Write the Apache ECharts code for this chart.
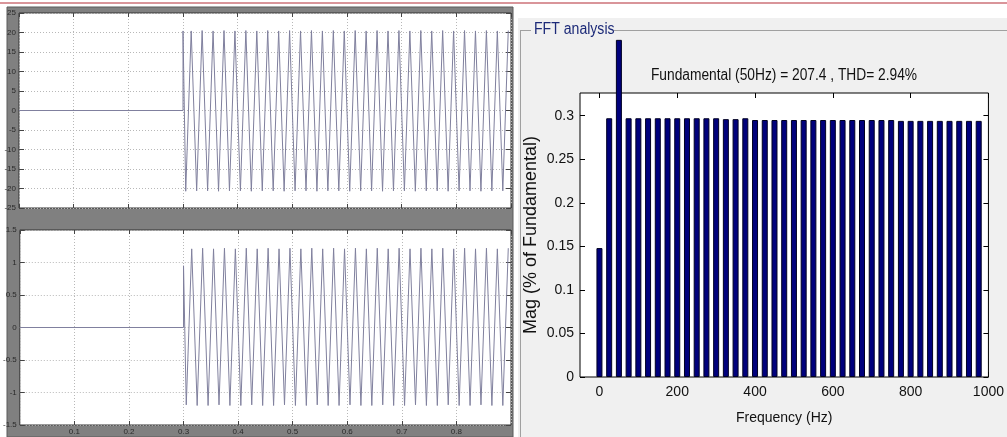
<!DOCTYPE html>
<html>
<head>
<meta charset="utf-8">
<script src="https://cdn.jsdelivr.net/npm/echarts@6/dist/echarts.min.js"></script>
<style>
  html, body { margin: 0; padding: 0; background: #fff; }
  #main { width: 1007px; height: 437px; }
</style>
</head>
<body>
<div id="main"></div>
<script>
// scope traces: extrema (time in s)
const waveT = [0, 0.3, 0.3,
  0.305, 0.315, 0.325, 0.335, 0.345, 0.355, 0.365, 0.375, 0.385, 0.395,
  0.405, 0.415, 0.425, 0.435, 0.445, 0.455, 0.465, 0.475, 0.485, 0.495,
  0.505, 0.515, 0.525, 0.535, 0.545, 0.555, 0.565, 0.575, 0.585, 0.595,
  0.605, 0.615, 0.625, 0.635, 0.645, 0.655, 0.665, 0.675, 0.685, 0.695,
  0.705, 0.715, 0.725, 0.735, 0.745, 0.755, 0.765, 0.775, 0.785, 0.795,
  0.805, 0.815, 0.825, 0.835, 0.845, 0.855, 0.865, 0.875, 0.885, 0.895]
const voltage = [0, 0, 20.4,
  -20.7, 20.4, -20.6, 20.5, -20.6, 20.4, -20.7, 20.5, -20.6, 20.4,
  -20.6, 20.5, -20.7, 20.4, -20.6, 20.5, -20.6, 20.4, -20.7, 20.5,
  -20.6, 20.4, -20.6, 20.5, -20.7, 20.4, -20.6, 20.5, -20.6, 20.4,
  -20.7, 20.5, -20.6, 20.4, -20.6, 20.5, -20.7, 20.4, -20.6, 20.5,
  -20.6, 20.4, -20.7, 20.5, -20.6, 20.4, -20.6, 20.5, -20.7, 20.4,
  -20.6, 20.5, -20.6, 20.4, -20.7, 20.5, -20.6, 20.4, -20.6, 20.5]
const current = [0, 0, 0.95,
  -1.19, 1.21, -1.2, 1.22, -1.2, 1.21, -1.19, 1.22, -1.2, 1.21,
  -1.2, 1.22, -1.19, 1.21, -1.2, 1.22, -1.2, 1.21, -1.19, 1.22,
  -1.2, 1.21, -1.2, 1.22, -1.19, 1.21, -1.2, 1.22, -1.2, 1.21,
  -1.19, 1.22, -1.2, 1.21, -1.2, 1.22, -1.19, 1.21, -1.2, 1.22,
  -1.2, 1.21, -1.19, 1.22, -1.2, 1.21, -1.2, 1.22, -1.19, 1.21,
  -1.2, 1.22, -1.2, 1.21, -1.19, 1.22, -1.2, 1.21, -1.2, 1.22]

// FFT bars (Hz, % of fundamental) - 50Hz bar runs off the top of the axes
const freqs = [0, 25, 50, 75, 100, 125, 150, 175, 200, 225, 250, 275, 300, 325, 350,
  375, 400, 425, 450, 475, 500, 525, 550, 575, 600, 625, 650, 675, 700, 725, 750,
  775, 800, 825, 850, 875, 900, 925, 950, 975]
const mags = [0.148, 0.297, 0.387, 0.297, 0.297, 0.297, 0.297, 0.297, 0.297, 0.297,
  0.297, 0.297, 0.297, 0.296, 0.296, 0.297, 0.295, 0.295, 0.295, 0.295, 0.295,
  0.295, 0.295, 0.295, 0.295, 0.295, 0.295, 0.295, 0.295, 0.295, 0.295,
  0.294, 0.294, 0.294, 0.294, 0.294, 0.294, 0.294, 0.294, 0.294]
const freqTicks = [0, 200, 400, 600, 800, 1000]
const magTicks = [0, 0.05, 0.1, 0.15, 0.2, 0.25, 0.3]

const sans = '"Liberation Sans", Arial, sans-serif'

const myChart = echarts.init(document.getElementById('main'))

const dotted = { show: true, lineStyle: { color: '#b8b8b8', type: [1, 2], width: 1 } }
const tinyLabel = { color: '#2a2a2a', fontSize: 8, fontFamily: 'Arial, sans-serif' }
const noLine = { show: false, onZero: false }

function pairs(xs, ys) {
  return xs.map((x, i) => [x, ys[i]])
}

myChart.setOption({
  animation: false,
  backgroundColor: '#fff',
  graphic: [
    { type: 'rect', z: -10, shape: { x: 0, y: 2, width: 1007, height: 2 }, style: { fill: '#d9959a' } },
    { type: 'rect', z: -10, shape: { x: 7, y: 7, width: 506, height: 430 }, style: { fill: '#808080', stroke: '#5a5a5a', lineWidth: 1 } },
    { type: 'rect', z: -10, shape: { x: 518, y: 18, width: 489, height: 419 }, style: { fill: '#f0f0f0' } },
    { type: 'line', z: -5, shape: { x1: 520.5, y1: 30.5, x2: 520.5, y2: 437 }, style: { stroke: '#a0a0a0', lineWidth: 1 } },
    { type: 'line', z: -5, shape: { x1: 520, y1: 30.5, x2: 531, y2: 30.5 }, style: { stroke: '#a0a0a0', lineWidth: 1 } },
    { type: 'line', z: -5, shape: { x1: 614, y1: 30.5, x2: 1007, y2: 30.5 }, style: { stroke: '#a0a0a0', lineWidth: 1 } },
    {
      type: 'text', x: 534, y: 30, scaleX: 0.88,
      style: { text: 'FFT analysis', fill: '#1c2a78', font: '16px ' + sans, textVerticalAlign: 'middle' }
    },
    {
      type: 'text', x: 784, y: 76, scaleX: 0.86,
      style: { text: 'Fundamental (50Hz) = 207.4 , THD= 2.94%', fill: '#111', font: '16px ' + sans, textAlign: 'center', textVerticalAlign: 'middle' }
    }
  ],
  grid: [
    { left: 19, top: 13, width: 492, height: 195, show: true, backgroundColor: '#fff', borderColor: '#333', borderWidth: 1 },
    { left: 19, top: 230, width: 492, height: 195, show: true, backgroundColor: '#fff', borderColor: '#333', borderWidth: 1 },
    { left: 580, top: 93, width: 412, height: 284, show: true, backgroundColor: '#fff', borderColor: '#000', borderWidth: 1 }
  ],
  xAxis: [
    {
      type: 'value', gridIndex: 0, min: 0, max: 0.9, interval: 0.1,
      axisLine: noLine, axisLabel: { show: false },
      axisTick: { inside: true, length: 4, lineStyle: { color: '#444' } }, splitLine: dotted
    },
    {
      type: 'value', gridIndex: 0, position: 'top', min: 0, max: 0.9, interval: 0.1,
      axisLine: noLine, axisLabel: { show: false },
      axisTick: { inside: true, length: 4, lineStyle: { color: '#444' } }, splitLine: { show: false }
    },
    {
      type: 'value', gridIndex: 1, min: 0, max: 0.9, interval: 0.1,
      axisLine: noLine,
      axisLabel: Object.assign({ margin: 3, showMinLabel: false, showMaxLabel: false }, tinyLabel),
      axisTick: { inside: true, length: 4, lineStyle: { color: '#444' } }, splitLine: dotted
    },
    {
      type: 'value', gridIndex: 1, position: 'top', min: 0, max: 0.9, interval: 0.1,
      axisLine: noLine, axisLabel: { show: false },
      axisTick: { inside: true, length: 4, lineStyle: { color: '#444' } }, splitLine: { show: false }
    },
    {
      type: 'value', gridIndex: 2, min: -50, max: 1000,
      axisLine: noLine,
      axisTick: { inside: true, length: 5, customValues: freqTicks, lineStyle: { color: '#000' } },
      axisLabel: { customValues: freqTicks, formatter: v => String(v), margin: 8, color: '#111', fontSize: 14, fontFamily: sans },
      splitLine: { show: false },
      name: 'Frequency (Hz)', nameLocation: 'middle', nameGap: 34,
      nameTextStyle: { color: '#111', fontSize: 14, fontFamily: sans }
    },
    {
      type: 'value', gridIndex: 2, position: 'top', min: -50, max: 1000,
      axisLine: noLine, axisLabel: { show: false },
      axisTick: { inside: true, length: 5, customValues: freqTicks, lineStyle: { color: '#000' } },
      splitLine: { show: false }
    }
  ],
  yAxis: [
    {
      type: 'value', gridIndex: 0, min: -25, max: 25, interval: 5,
      axisLine: noLine,
      axisLabel: Object.assign({ margin: 3 }, tinyLabel),
      axisTick: { inside: true, length: 5, lineStyle: { color: '#444' } }, splitLine: dotted
    },
    {
      type: 'value', gridIndex: 0, position: 'right', min: -25, max: 25, interval: 5,
      axisLine: noLine, axisLabel: { show: false },
      axisTick: { inside: true, length: 5, lineStyle: { color: '#444' } }, splitLine: { show: false }
    },
    {
      type: 'value', gridIndex: 1, min: -1.5, max: 1.5, interval: 0.5,
      axisLine: noLine,
      axisLabel: Object.assign({ margin: 3 }, tinyLabel),
      axisTick: { inside: true, length: 5, lineStyle: { color: '#444' } }, splitLine: dotted
    },
    {
      type: 'value', gridIndex: 1, position: 'right', min: -1.5, max: 1.5, interval: 0.5,
      axisLine: noLine, axisLabel: { show: false },
      axisTick: { inside: true, length: 5, lineStyle: { color: '#444' } }, splitLine: { show: false }
    },
    {
      type: 'value', gridIndex: 2, min: 0, max: 0.326,
      axisLine: noLine,
      axisTick: { inside: true, length: 5, customValues: magTicks, lineStyle: { color: '#000' } },
      axisLabel: { customValues: magTicks, margin: 6, color: '#111', fontSize: 14, fontFamily: sans },
      splitLine: { show: false },
      name: 'Mag (% of Fundamental)', nameLocation: 'middle', nameGap: 40,
      nameTextStyle: { color: '#111', fontSize: 18, fontFamily: sans }
    },
    {
      type: 'value', gridIndex: 2, position: 'right', min: 0, max: 0.326,
      axisLine: noLine, axisLabel: { show: false },
      axisTick: { inside: true, length: 5, customValues: magTicks, lineStyle: { color: '#000' } },
      splitLine: { show: false }
    }
  ],
  series: [
    {
      type: 'line', xAxisIndex: 0, yAxisIndex: 0, data: pairs(waveT, voltage),
      symbol: 'none', lineStyle: { color: '#80809e', width: 1 }
    },
    {
      type: 'line', xAxisIndex: 2, yAxisIndex: 2, data: pairs(waveT, current),
      symbol: 'none', lineStyle: { color: '#80809e', width: 1 }
    },
    {
      type: 'bar', xAxisIndex: 4, yAxisIndex: 4, data: pairs(freqs, mags),
      barWidth: 6, clip: false,
      itemStyle: { color: '#00007c', borderColor: '#000022', borderWidth: 1 }
    }
  ]
})
</script>
</body>
</html>
